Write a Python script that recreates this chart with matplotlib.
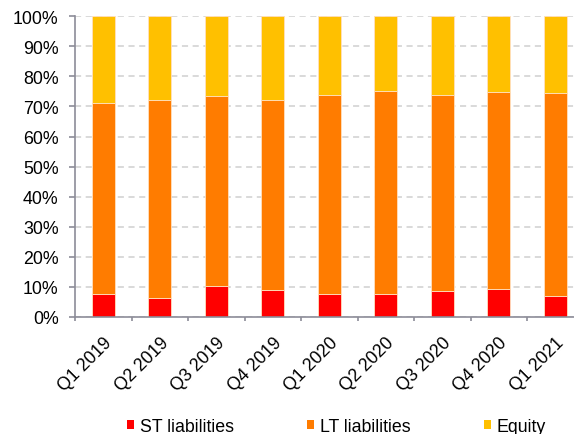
import matplotlib.pyplot as plt
from matplotlib.patches import Patch
import numpy as np

# funding structure by quarter, share of total (%)
quarters = ['Q1 2019', 'Q2 2019', 'Q3 2019', 'Q4 2019', 'Q1 2020',
            'Q2 2020', 'Q3 2020', 'Q4 2020', 'Q1 2021']
st_liab = [7.7, 6.3, 10.1, 8.9, 7.7, 7.7, 8.6, 9.3, 6.8]
lt_liab = [63.6, 66.0, 63.4, 63.4, 66.0, 67.3, 65.1, 65.4, 67.7]
equity = [100 - s - l for s, l in zip(st_liab, lt_liab)]

series = ['ST liabilities', 'LT liabilities', 'Equity']
colors = ['#FF0000', '#FF7C00', '#FFC000']

plt.rcParams['font.family'] = ['Liberation Sans', 'DejaVu Sans']
FS = 12.8

fig = plt.figure(figsize=(5.74, 4.35), dpi=100)
ax = fig.add_axes([0.1307, 0.2697, 0.8859, 0.6903])

x = np.arange(len(quarters))
bottom = np.zeros(len(quarters))
for name, vals, c in zip(series, [st_liab, lt_liab, equity], colors):
    ax.bar(x, vals, width=0.4, bottom=bottom, color=c, edgecolor='#FFE0C0',
           linewidth=0.6, zorder=3, label=name)
    bottom += np.array(vals)

ax.set_xlim(-0.5, len(quarters) - 0.5)
ax.set_ylim(0, 100)
ax.set_yticks(np.arange(0, 101, 10))
ax.set_yticklabels([f'{v}%' for v in range(0, 101, 10)], fontsize=FS)
ax.yaxis.grid(True, linestyle=(0, (4, 3)), color='#D0D0D0', linewidth=1.1, zorder=0)

# category ticks sit on the boundaries, labels on the bar centres
ax.set_xticks(np.arange(-0.5, len(quarters), 1))
ax.set_xticklabels([])
ax.set_xticks(x, minor=True)
ax.set_xticklabels(quarters, minor=True, rotation=45, ha='right', va='top',
                   rotation_mode='anchor', fontsize=FS)
ax.tick_params(axis='x', which='minor', length=0, pad=12)
ax.tick_params(axis='x', which='major', length=3, color='#8C8C98', width=1.2)
ax.tick_params(axis='y', length=4.3, color='#8C8C98', width=1.2, pad=7.5)

for side in ['top', 'right']:
    ax.spines[side].set_visible(False)
for side in ['left', 'bottom']:
    ax.spines[side].set_color('#8C8C98')
    ax.spines[side].set_linewidth(1.2)
    ax.spines[side].set_zorder(4)

handles = [Patch(facecolor=c, edgecolor='none') for c in colors]
fig.legend(handles, series, loc='center', bbox_to_anchor=(0.586, 0.017),
           ncol=3, frameon=False, fontsize=FS, handlelength=0.4,
           handleheight=0.4, handletextpad=0.35, columnspacing=4.1,
           borderpad=0)

fig.savefig('out.png', dpi=100)
